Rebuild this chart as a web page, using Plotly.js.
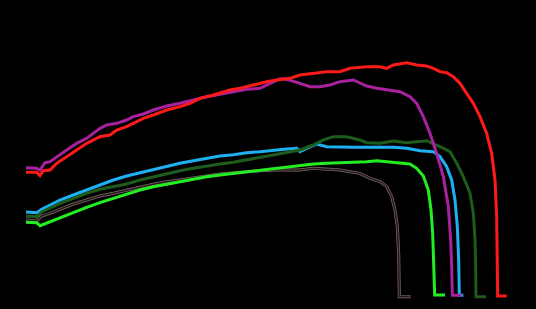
<!DOCTYPE html>
<html><head><meta charset="utf-8">
<script src="https://cdn.plot.ly/plotly-3.0.1.min.js"></script>
<style>html,body{margin:0;padding:0;background:#000;}#chart{width:536px;height:309px;}</style>
</head><body><div id="chart"></div>
<script>
// Displacement (x) and load (y) for each specimen
const redX = [0,0.32,0.42,0.52,0.72,0.92,1.22,1.52,1.82,2.22,2.52,2.72,3.02,3.22,3.52,3.82,4.22,4.62,4.92,5.22,5.62,6.12,6.42,6.82,7.22,7.52,7.92,8.22,8.62,9.02,9.42,9.72,10.22,10.62,10.82,11.02,11.42,11.72,12.02,12.22,12.42,12.62,12.82,13.02,13.22,13.42,13.62,13.82,13.97,14.07,14.12,14.14,14.15,14.42];
const redY = [3.83,3.83,3.73,3.88,3.90,4.10,4.30,4.50,4.70,4.90,4.95,5.10,5.20,5.30,5.45,5.55,5.70,5.80,5.90,6.05,6.15,6.30,6.35,6.45,6.55,6.60,6.65,6.75,6.80,6.85,6.85,6.95,7.00,7.00,6.95,7.05,7.12,7.05,7.02,6.95,6.85,6.82,6.70,6.50,6.20,5.90,5.50,5.00,4.40,3.60,2.50,1.50,0.12,0.12];

const magX = [0,0.32,0.42,0.57,0.72,0.92,1.22,1.52,1.82,2.22,2.42,2.72,3.02,3.22,3.52,3.82,4.22,4.62,5.02,5.42,5.82,6.22,6.62,7.02,7.22,7.42,7.62,7.82,8.02,8.22,8.52,8.82,9.12,9.42,9.82,10.02,10.22,10.52,10.82,11.22,11.52,11.72,11.92,12.12,12.32,12.52,12.67,12.74,12.77,12.79,13.07];
const magY = [3.97,3.95,3.90,4.12,4.15,4.30,4.50,4.70,4.85,5.15,5.25,5.30,5.40,5.50,5.58,5.70,5.82,5.90,6.00,6.10,6.17,6.25,6.32,6.35,6.45,6.55,6.64,6.62,6.55,6.50,6.40,6.40,6.45,6.55,6.60,6.52,6.42,6.35,6.30,6.25,6.10,5.90,5.50,5.00,4.40,3.70,2.80,1.80,1.00,0.14,0.14];

const blueX = [0,0.32,0.47,0.72,1.02,1.42,1.82,2.22,2.62,3.02,3.42,3.82,4.22,4.62,5.02,5.42,5.82,6.22,6.62,7.02,7.42,7.82,8.12,8.22,8.42,8.72,9.02,9.42,9.82,10.22,10.62,11.02,11.42,11.82,12.22,12.42,12.62,12.77,12.87,12.94,12.98,13.00,13.12];
const blueY = [2.64,2.62,2.72,2.85,3.00,3.15,3.30,3.45,3.60,3.72,3.82,3.92,4.00,4.10,4.18,4.25,4.32,4.36,4.42,4.45,4.50,4.53,4.55,4.45,4.55,4.68,4.60,4.58,4.58,4.58,4.58,4.58,4.55,4.48,4.45,4.30,4.00,3.60,3.00,2.20,1.20,0.14,0.14];

const dgreenX = [0,0.32,0.47,0.72,1.02,1.42,1.82,2.22,2.62,3.02,3.42,3.82,4.22,4.62,5.02,5.42,5.82,6.22,6.62,7.02,7.42,7.82,8.22,8.62,8.92,9.22,9.62,10.02,10.22,10.62,11.02,11.42,11.82,12.02,12.22,12.42,12.72,12.92,13.12,13.32,13.42,13.47,13.49,13.50,13.80];
const dgreenY = [2.52,2.50,2.64,2.75,2.90,3.05,3.20,3.32,3.40,3.48,3.60,3.70,3.80,3.88,3.95,4.02,4.08,4.13,4.20,4.28,4.35,4.42,4.50,4.65,4.80,4.90,4.90,4.80,4.72,4.70,4.77,4.72,4.75,4.78,4.68,4.60,4.45,4.10,3.70,3.20,2.60,1.80,1.00,0.10,0.10];

const blackX = [0,0.32,0.47,0.72,1.02,1.42,1.82,2.22,2.62,3.02,3.42,3.82,4.22,4.62,5.02,5.42,5.82,6.22,6.62,7.02,7.42,7.82,8.22,8.62,9.02,9.42,9.72,10.02,10.32,10.62,10.82,10.97,11.07,11.14,11.18,11.20,11.54];
const blackY = [2.40,2.38,2.52,2.60,2.72,2.88,3.00,3.12,3.20,3.30,3.38,3.47,3.55,3.60,3.65,3.72,3.78,3.82,3.85,3.88,3.90,3.90,3.90,3.95,3.92,3.90,3.85,3.80,3.65,3.55,3.40,3.10,2.70,2.20,1.40,0.10,0.10];

const greenX = [0,0.32,0.42,0.72,1.02,1.42,1.82,2.22,2.62,3.02,3.42,3.82,4.22,4.62,5.02,5.42,5.82,6.22,6.62,7.02,7.42,7.82,8.22,8.62,9.02,9.42,9.82,10.22,10.52,10.82,11.22,11.52,11.72,11.92,12.07,12.15,12.20,12.24,12.26,12.57];
const greenY = [2.33,2.32,2.23,2.35,2.47,2.63,2.78,2.92,3.05,3.18,3.30,3.40,3.48,3.55,3.62,3.70,3.75,3.80,3.85,3.90,3.95,4.00,4.05,4.08,4.10,4.12,4.12,4.15,4.18,4.15,4.13,4.08,3.95,3.72,3.30,2.70,2.00,1.00,0.15,0.15];

const series = [
  {x: blackX, y: blackY, color: '#7a6e6e', w: 3},   // light halo of the black curve
  {x: blackX, y: blackY, color: '#2a1818', w: 1.6},
  {x: greenX, y: greenY, color: '#22ee22', w: 3},
  {x: blueX, y: blueY, color: '#1eb0f2', w: 3},
  {x: dgreenX, y: dgreenY, color: '#1d5c1d', w: 3},
  {x: magX, y: magY, color: '#a8229e', w: 3},
  {x: redX, y: redY, color: '#ff1a1a', w: 3}
];

const traces = series.map(s => ({
  type: 'scatter', mode: 'lines', x: s.x, y: s.y,
  line: {color: s.color, width: s.w}, hoverinfo: 'skip'
}));

const layout = {
  width: 536, height: 309,
  margin: {l: 0, r: 0, t: 0, b: 0},
  paper_bgcolor: '#000', plot_bgcolor: '#000',
  showlegend: false,
  xaxis: {range: [-0.78, 15.30], visible: false, fixedrange: true},
  yaxis: {range: [-0.27, 9.00], visible: false, fixedrange: true}
};

Plotly.newPlot('chart', traces, layout, {staticPlot: true, displayModeBar: false});
</script>
</body></html>
